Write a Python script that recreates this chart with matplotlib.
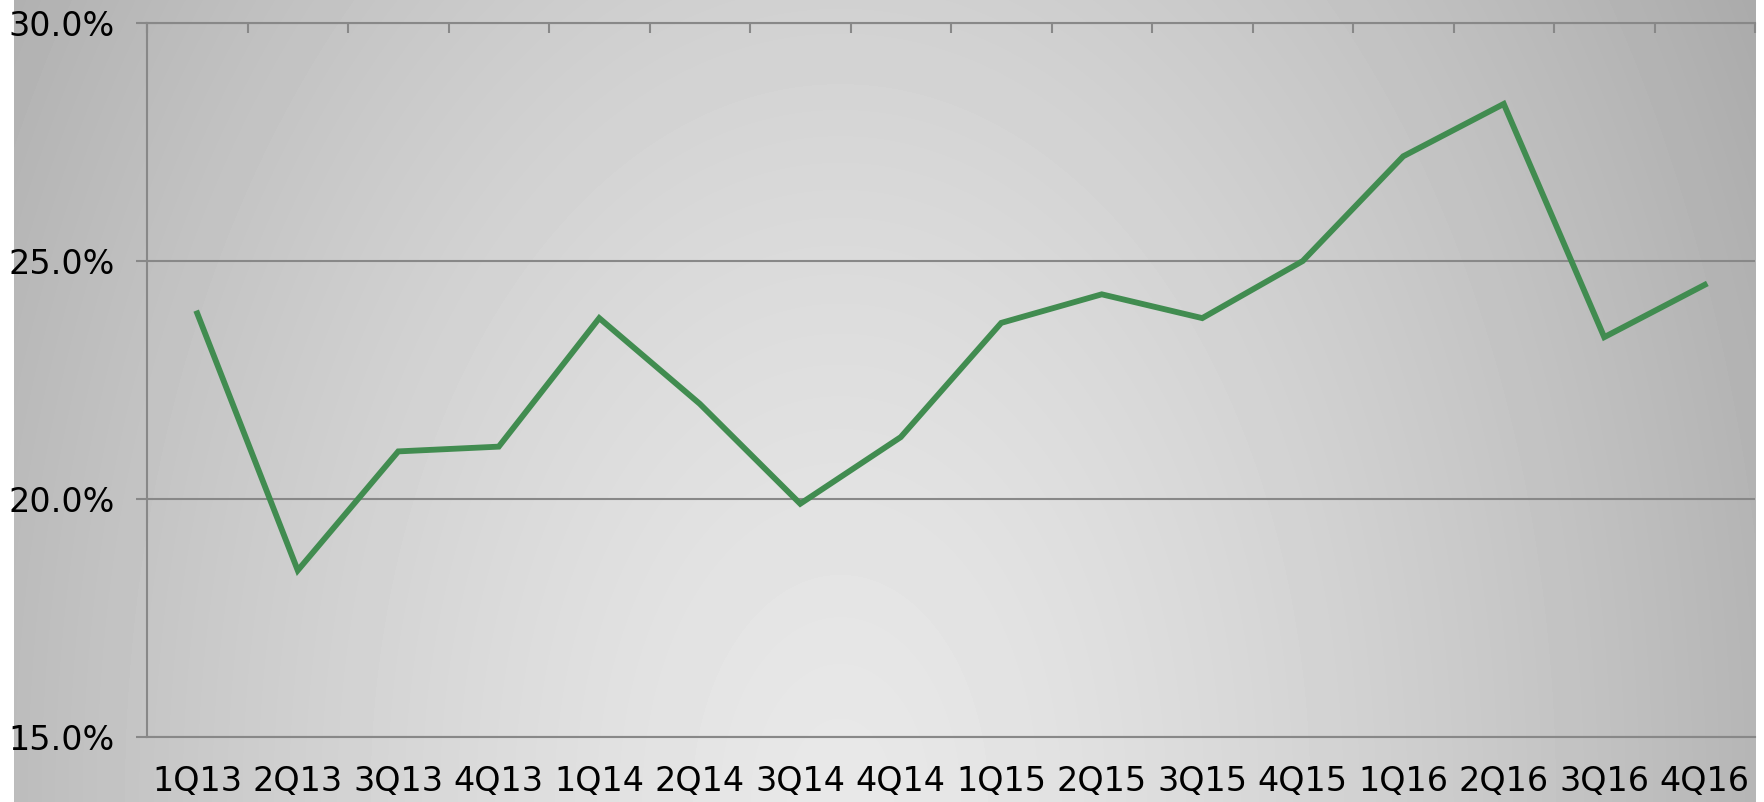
import numpy as np
import matplotlib
matplotlib.use("Agg")
import matplotlib.pyplot as plt
from matplotlib.ticker import FuncFormatter

# quarterly values (%)
quarters = ["1Q13", "2Q13", "3Q13", "4Q13", "1Q14", "2Q14", "3Q14", "4Q14",
            "1Q15", "2Q15", "3Q15", "4Q15", "1Q16", "2Q16", "3Q16", "4Q16"]
values = [23.9, 18.5, 21.0, 21.1, 23.8, 22.0, 19.9, 21.3,
          23.7, 24.3, 23.8, 25.0, 27.2, 28.3, 23.4, 24.5]
y_ticks = [15, 20, 25, 30]

W, H = 1764, 802
fig = plt.figure(figsize=(W / 100, H / 100), dpi=100, facecolor="white")

# radial grey background like the original chart area
bg = fig.add_axes([14 / W, 0, (1756 - 14) / W, 1])
yy, xx = np.mgrid[0:H, 14:1756]
r = np.sqrt(((xx - 840) / 820.0) ** 2 + ((yy - 800) / 1250.0) ** 2)
shade = np.clip(0.91 - 0.17 * r ** 1.4, 0.6, 1.0)
bg.imshow(shade, cmap="gray", vmin=0, vmax=1, aspect="auto", interpolation="bilinear")
bg.axis("off")

ax = fig.add_axes([147 / W, (H - 737) / H, (1755 - 147) / W, (737 - 23) / H])
ax.patch.set_alpha(0)

grid_c = "#888888"
ax.plot(range(len(values)), values, color="#418c50", lw=4.2, solid_joinstyle="miter", zorder=3)

ax.set_xlim(-0.5, len(values) - 0.5)
ax.set_ylim(15, 30)
ax.set_yticks(y_ticks)
ax.yaxis.set_major_formatter(FuncFormatter(lambda v, p: f"{v:.1f}%"))
ax.grid(axis="y", color=grid_c, lw=1.5)
ax.set_axisbelow(True)

ax.set_xticks(range(len(values)))
ax.set_xticklabels(quarters)
ax.set_xticks(np.arange(-0.5, len(values)), minor=True)
ax.tick_params(axis="x", which="major", length=0, pad=20, labelsize=24)
ax.tick_params(axis="x", which="minor", top=True, bottom=False, direction="in",
               length=7.5, width=1.5, color=grid_c)
ax.tick_params(axis="y", which="major", length=8, width=1.5, color=grid_c,
               pad=15, labelsize=24)

for side in ["left", "top", "bottom"]:
    ax.spines[side].set_color(grid_c)
    ax.spines[side].set_linewidth(1.5)
ax.spines["right"].set_visible(False)

plt.savefig("out.png", dpi=100, facecolor="white")
